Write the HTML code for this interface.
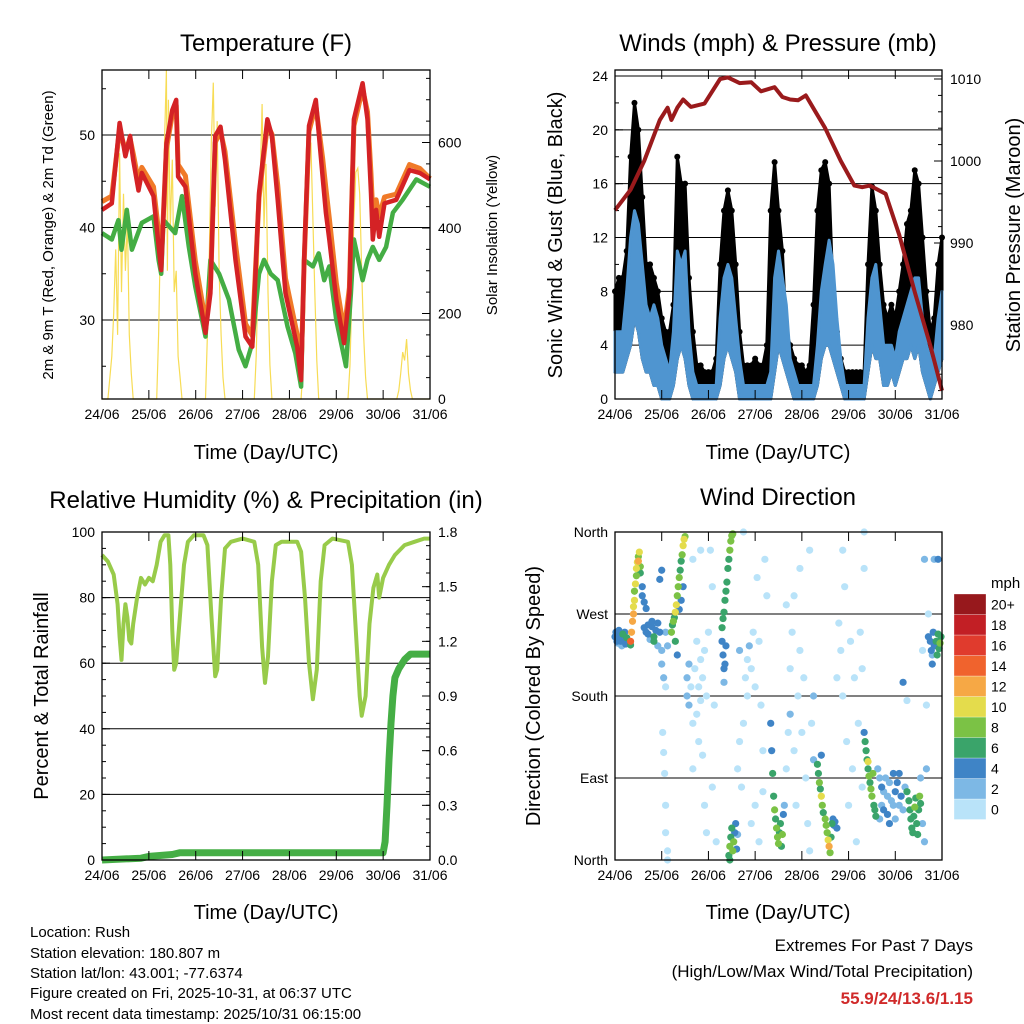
<!DOCTYPE html>
<html><head><meta charset="utf-8">
<style>
html,body{margin:0;padding:0;background:#fff;}
svg{display:block;font-family:"Liberation Sans",sans-serif;}
</style></head>
<body>
<svg id="chart" width="1024" height="1024" viewBox="0 0 1024 1024" xmlns="http://www.w3.org/2000/svg">
<rect width="1024" height="1024" fill="#fff"/>
<text x="266" y="51" font-size="24" text-anchor="middle">Temperature (F)</text>
<text x="778" y="51" font-size="24" text-anchor="middle">Winds (mph) &amp; Pressure (mb)</text>
<text x="266" y="508" font-size="24" text-anchor="middle">Relative Humidity (%) &amp; Precipitation (in)</text>
<text x="778" y="505" font-size="24" text-anchor="middle">Wind Direction</text>
<text x="266" y="459" font-size="20" text-anchor="middle">Time (Day/UTC)</text>
<text x="778" y="459" font-size="20" text-anchor="middle">Time (Day/UTC)</text>
<text x="266" y="919" font-size="20" text-anchor="middle">Time (Day/UTC)</text>
<text x="778" y="919" font-size="20" text-anchor="middle">Time (Day/UTC)</text>
<text transform="translate(53,235) rotate(-90)" font-size="15" text-anchor="middle">2m &amp; 9m T (Red, Orange) &amp; 2m Td (Green)</text>
<text transform="translate(497,235) rotate(-90)" font-size="15" text-anchor="middle">Solar Insolation (Yellow)</text>
<text transform="translate(562,235) rotate(-90)" font-size="20" text-anchor="middle">Sonic Wind &amp; Gust (Blue, Black)</text>
<text transform="translate(1020,235) rotate(-90)" font-size="20" text-anchor="middle">Station Pressure (Maroon)</text>
<text transform="translate(48,696) rotate(-90)" font-size="20" text-anchor="middle">Percent &amp; Total Rainfall</text>
<text transform="translate(540,696) rotate(-90)" font-size="20" text-anchor="middle">Direction (Colored By Speed)</text>
<g font-size="15">
<text x="30" y="937">Location: Rush</text>
<text x="30" y="958">Station elevation: 180.807 m</text>
<text x="30" y="978">Station lat/lon: 43.001; -77.6374</text>
<text x="30" y="998">Figure created on Fri, 2025-10-31, at 06:37 UTC</text>
<text x="30" y="1019">Most recent data timestamp: 2025/10/31 06:15:00</text>
</g>
<text x="973" y="951" font-size="17" text-anchor="end">Extremes For Past 7 Days</text>
<text x="973" y="977" font-size="17" text-anchor="end">(High/Low/Max Wind/Total Precipitation)</text>
<text x="973" y="1004" font-size="17" font-weight="bold" fill="#d02a2a" text-anchor="end">55.9/24/13.6/1.15</text>
<text x="991" y="588" font-size="15">mph</text>
</svg>
<script>
// ---------- data ----------
const dayLabels = ["24/06","25/06","26/06","27/06","28/06","29/06","30/06","31/06"];
const tempHours = [0,5,9,12,14.4,16,18.7,20.4,26.4,29,30.3,33,36,38,39,42.7,47.8,53,55.5,58,60.7,63,68.4,73.5,77,80.4,84.7,87,90,94,100,102,103.5,106,109.5,113,114.7,116.4,120,124,126.7,129,133.5,136,137.8,138.7,140.4,142,144.7,150.7,157.5,162.7,168];
const temp2m = [41.9,42.6,51.3,47.7,49.9,47.3,44,45.9,43.4,38,35.4,49.1,52.7,53.8,45.5,44.4,35,28.6,32.9,49.9,50.9,47.3,36.5,28.2,27.1,43.7,51.7,49.9,43,32.9,27.1,23.5,36.5,51,53.8,45.5,41.6,38.7,32.2,27.5,32.9,51.7,55.6,51.7,43.7,38.7,41.9,39,42.6,43,46.2,45.9,45.2];
const temp9m = [42.8,43.4,50.6,48.3,49.6,48.0,45.0,46.5,44.4,39.5,36.2,48.5,52.2,53.2,46.8,45.6,36.4,29.8,33.5,49.2,50.4,48.2,38.2,29.6,28.3,43.2,51.1,50.1,44.6,34.5,28.4,24.6,36.0,50.4,53.2,47.5,44.2,41.0,34.0,28.8,33.5,51.0,55.0,52.5,45.8,41.5,43.0,41.2,43.3,43.6,46.8,46.4,45.3];
const dewHours = [0,5,8.4,10,12.7,15.3,20.4,26.4,29,30.3,31.5,37.5,41,44.4,47.8,53,55.5,60,65,70,73.5,77,80.4,83,86.4,90,95,99,102,103.5,108,111,113.8,116.4,120,125,127.5,129,133.5,136,138.7,142,145.5,149,154,161,168];
const dewPoint = [39.4,38.7,40.8,37.6,41.9,37.6,40.5,41.2,36.5,35,40.8,39.4,43.4,38,33.6,28.2,36.5,35,32.2,26.8,25,27.5,35,36.5,35,34.3,29.3,26.4,22.8,36.5,35.8,37.2,34.3,35.8,30,25,32.9,38.7,34.3,36.5,37.9,36.5,37.9,41.6,43,45.2,44.4];
const solarHours = [0,3,5,6,7,8,9,10,11,12,13,14,15,16,28,29,30,31,32,33,33.5,34,35,36,37,38,39,40,41,53,54,55,56,57,58,59,60,61,62,63,78,79,80,81,82,83,84,85,86,87,102,103,104,105,106,107,108,109,110,111,126,127,128,129,130,131,132,133,134,135,136,151,152,153,154,155,156,157,158,159,168];
const solarValues = [0,0,100,200,350,150,575,250,480,300,420,150,60,0,0,150,400,300,600,770,300,700,400,560,250,300,100,50,0,0,150,350,600,740,450,650,300,150,50,0,0,100,300,500,690,400,550,250,80,0,0,80,250,450,580,600,420,250,90,0,0,80,250,420,530,540,480,300,150,50,0,0,20,60,110,90,140,60,20,0,0];
const pressHours = [0,8,15,23,27,29,32,35,39,46,54,58,64,70,75,82,86,90,94,98,103,108,116,123,127,131,139,146,154,162,168];
const pressValues = [994,996.5,1000,1005,1006.5,1005,1006.5,1007.5,1006.6,1007,1010,1010.2,1009.5,1009.6,1008.5,1009,1007.8,1007.5,1007.4,1008,1006,1004,1000,997,996.8,997,996,991,984,977.5,972];
const windLo = [2,2,2,3,4,6,5,3,2,2,1,1,0,0,0,1,3,4,3,1,0,0,0,0,0,0,0,1,3,4,3,2,0,0,0,0,0,0,0,0,0,2,4,3,2,1,0,0,0,0,0,0,1,3,4,4,3,2,1,0,0,0,0,0,0,2,4,3,3,1,1,2,1,2,3,3,4,3,4,2,1,0,1,2,3];
const windHi = [5,5,5,8,12,14,13,10,7,6,7,6,4,3,2,5,11,10,11,5,2,1,1,1,1,1,1,6,9,10,9,6,3,1,1,1,1,1,1,1,2,9,11,9,7,3,2,1,1,1,1,1,4,8,10,11.8,10,6,3,1,1,1,1,1,1,6,9,10,7,4,4,4,3,5,6,7,8,9,9,6,4,3,3,6,8];
const gustHi = [8,9,9,11,18,22,20,15,10,10,9,8,6,5,5,7,18,16,16,9,5,2.5,2.5,2,2,2,3,10,14,15.5,14,10,5,2.5,2.5,2.5,3,2.5,2.5,4,14,17.6,14,11,5,4,3,2.5,2.5,2,2.5,7,14,17,17.6,16,8,5,3,2,2,2,2,2,2,10,15.8,14,10,7,6,7,6,8,10,13,14,17,16,12,8,5,6,10,12];
const rhHours = [0,3,6,8,9,10,11,12,13,14,15,16,18,20,22,24,26,28,30,32,34,35,36,37,38,40,42,44,47,52,54,56,58,59,61,63,66,72,78,80,82,83.5,85,87,89,92,100,102,104,106,108,110,112,114,118,126,128,130,132,133,135,137,139,141,142,144,147,150,155,160,165,168];
const rhValues = [93,91,87,78,68,61,72,78,74,67,66,72,80,86,84,86,85,90,97,99,99,90,70,58,60,75,90,97,99,99,96,75,56,58,80,95,97,98,97,90,65,54,62,85,96,97,97,94,80,60,49,58,85,96,98,97,90,70,50,44,50,72,83,87,80,86,90,93,96,97,98,98];
const precipHours = [0,20,24,36,40,144,145,146,147,148,149,150,152,155,158,168];
const precipValues = [0,0.01,0.02,0.03,0.04,0.04,0.1,0.3,0.55,0.75,0.9,1.0,1.05,1.1,1.13,1.13];
const dirPoints = [
[0,245,4],[0.5,250,4],[1,240,4],[1.5,238,3],[2,252,4],[2.5,245,5],[3,240,4],[3.5,235,3],[4,248,6],[4.5,242,4],[5,250,5],[5.5,237,4],[6,244,6],[7,240,5],[8,236,7],
[8,240,14],[8.5,250,12],[9,262,12],[9.5,270,12],[9.5,278,10],[10,285,10],[10,295,9],[10.5,303,10],[11,312,8],[11,320,11],[11.5,327,10],[12,333,9],[12,328,12],[13,322,8],[13,315,6],[14,300,4],[14,290,5],[12.5,338,10],
[15,255,4],[16,250,5],[17,248,4],[17,258,5],[18,242,3],[19,256,4],[19,262,5],[20,245,6],[20,240,7],[21,252,4],[22,260,5],[22,235,3],[23,250,4],[24,230,3],[24,318,4],[23,308,4],[15,283,4],[16,276,4],
[24,215,2],[25,200,2],[26,190,1],[27,235,3],[26,250,3],[24.5,140,1],[25,118,1],[25.5,95,1],[26,30,1],[26,60,1],[27,10,1],[27,0,1],
[29,250,8],[29.5,258,7],[30,262,8],[30.5,266,6],[31,272,10],[31.5,280,10],[32,290,9],[32.5,300,8],[33,310,8],[33.5,318,7],[34,328,6],[34.5,335,9],[35,345,10],[35.5,352,10],[36,355,9],[33,275,4],[34,285,5],[35,300,4],[31,240,6],[32,225,4],
[37,200,3],[37,180,3],[38,170,3],[38,215,2],[39,190,1],[40,150,1],[40,100,1],[41,210,1],[42,160,1],[42,240,1],[43,190,1],[43,130,1],[44,220,1],[44,175,1],[45,200,1],[45,115,1],[46,60,1],[46,230,1],[47,180,1],[48,250,1],[49,340,1],[50,300,1],[51,170,1],[52,20,0],[40,330,1],[44,340,0],[47,30,1],[50,80,0],
[55,255,6],[55.5,265,7],[56,272,6],[56.5,285,7],[57,295,6],[57.5,305,7],[58,320,7],[58.5,330,6],[59,340,8],[59.5,350,8],[60,356,9],[60.5,358,8],[55,240,4],[55.5,225,5],[56,210,4],[56,195,3],[57,235,4],[56.5,215,4],
[58.5,5,7],[59,15,8],[59.5,25,7],[60,35,6],[60.5,10,8],[61,20,9],[61.5,30,5],[62,40,4],[62.5,12,4],[63,28,3],[59,0,7],
[63,100,1],[64,130,1],[65,80,0],[66,150,1],[67,200,1],[68,220,1],[68,180,1],[69,235,2],[70,210,1],[71,250,1],[72,190,1],[72,60,1],[73,310,1],[74,240,1],[74,20,1],[75,170,1],[76,120,1],[77,330,1],[78,290,1],[66,360,1],[64,230,3],[70,40,1],[76,75,1],
[80,150,4],[80.5,120,4],[81,95,6],[81.5,70,7],[82,55,8],[82.5,45,7],[83,35,8],[83.5,25,9],[84,18,8],[84.5,30,7],[85,40,6],[85.5,15,7],[86,28,8],[86.5,50,4],[87,60,3],
[88,100,1],[89,140,1],[90,160,2],[90,210,1],[91,250,1],[92,290,1],[92,120,1],[93,60,1],[94,180,1],[95,230,1],[96,140,1],[97,200,1],[98,90,1],[99,40,1],[100,10,1],[101,150,1],[102,180,2],[102,110,2],[95,320,1],[88,280,1],[100,340,0],
[104,105,6],[104.5,95,6],[105,85,8],[105.5,78,7],[106,70,10],[106.5,60,8],[107,52,7],[108,45,8],[108.5,38,9],[109,30,8],[109.5,22,10],[110,15,12],[110.5,8,8],[111,25,7],[111.5,40,6],[112,45,4],[112.5,38,4],[113,42,5],[114,35,4],[106,115,4],
[114,200,1],[115,260,1],[116,230,1],[117,180,1],[117,340,1],[118,300,1],[119,130,1],[120,60,0],[121,240,1],[122,100,1],[123,200,1],[124,20,1],[125,150,1],[126,250,1],[127,80,1],[128,360,1],[128,320,1],[127,210,1],
[128,140,5],[128.5,130,6],[129,120,6],[129.5,110,7],[130,100,6],[130.5,92,8],[131,85,7],[131.5,78,8],[132,70,9],[132.5,95,8],[133,60,6],[133.5,55,7],[134,48,6],[130,108,10],
[135,100,3],[136,90,3],[137,80,4],[137,60,3],[138,75,2],[139,90,3],[140,70,3],[140,50,4],[141,85,3],[142,65,2],[143,95,4],[143,60,3],[144,75,4],[145,85,4],[146,95,4],[147,70,4],[148,55,3],[149,80,3],[136,45,3],[138,55,4],[141,40,4],[144,45,3],[146,60,3],
[150,75,6],[151,65,6],[151.5,55,6],[152,45,6],[152.5,35,6],[153,30,7],[153.5,48,7],[154,58,8],[154.5,68,7],[155,40,6],[155.5,28,6],[156,55,7],[156.5,70,8],[157,62,7],
[157,90,2],[158,40,2],[159,20,2],[160,100,2],[160,170,1],[159,330,2],[161,270,1],[158,230,1],[150,175,1],[148,195,4],
[161,245,4],[162,240,4],[162.5,230,5],[163,225,3],[163.5,250,4],[164,235,5],[165,240,6],[165.5,225,7],[166,248,6],[166.5,232,7],[167,238,8],[167.5,245,6],[163,215,4],[164,330,3],[166,330,4]
];
const speedLabels = ["0","2","4","6","8","10","12","14","16","18","20+"];
const speedColors = ["#b9e3f9","#7db8e5","#3f84c6","#3aa46a","#7bc245","#e4dc4c","#f6a845","#f0632d","#e03b2d","#c21f25","#97181c"];
const tempTicks = [30,40,50];
const solarTicks = [0,200,400,600];
const windTicks = [0,4,8,12,16,20,24];
const pressTicks = [980,990,1000,1010];
const rhTicks = [0,20,40,60,80,100];
const precipTicks = ["0.0","0.3","0.6","0.9","1.2","1.5","1.8"];
const dirTicks = [0,90,180,270,360];
const dirLabels = ["North","East","South","West","North"];

// ---------- helpers ----------
const NS = "http://www.w3.org/2000/svg";
const svg = document.getElementById("chart");
function mk(tag, attrs, parent){
  const e = document.createElementNS(NS, tag);
  for (const k in attrs) e.setAttribute(k, attrs[k]);
  (parent || svg).appendChild(e);
  return e;
}
function lin(d0,d1,r0,r1){ return v => r0 + (v-d0)/(d1-d0)*(r1-r0); }
const P1 = {x0:102,x1:430,y0:70,y1:399};
const P2 = {x0:615,x1:942,y0:70,y1:399};
const P3 = {x0:102,x1:430,y0:532,y1:860};
const P4 = {x0:615,x1:942,y0:532,y1:860};
[P1,P2,P3,P4].forEach(p => { p.x = lin(0,168,p.x0,p.x1); });
P1.y = lin(30,50,320,135); P1.y2 = lin(0,600,399,142.5);
P2.y = lin(0,24,399,76); P2.y2 = lin(980,1010,325,79);
P3.y = lin(0,100,860,532); P3.y2 = lin(0,1.8,860,532);
P4.y = lin(0,360,860,532);

function pathOf(hs, vs, sx, sy){
  return hs.map((h,i)=>(i?"L":"M")+sx(h).toFixed(1)+","+sy(vs[i]).toFixed(1)).join("");
}
function bandOf(hs, hi, lo, sx, sy){
  let d = hs.map((h,i)=>(i?"L":"M")+sx(h).toFixed(1)+","+sy(hi[i]).toFixed(1)).join("");
  for (let i=hs.length-1;i>=0;i--) d += "L"+sx(hs[i]).toFixed(1)+","+sy(lo[i]).toFixed(1);
  return d+"Z";
}
function frame(p, name){
  const g = mk("g", {});
  
  
  dayLabels.forEach((lab,i)=>{
    const x = p.x(i*24);
    const t1 = mk("line",{x1:x,x2:x,y1:p.y1,y2:p.y1-9,stroke:"#000","stroke-width":1},g);
    
    
    const t2 = mk("line",{x1:x,x2:x,y1:p.y0,y2:p.y0+9,stroke:"#000","stroke-width":1},g);
    
    
    const tx = mk("text",{x:x,y:p.y1+20,"font-size":14,"text-anchor":"middle"},g);
    tx.textContent = lab;
    
    
  });
  return g;
}
function border(p, name){
  const r = mk("rect",{x:p.x0,y:p.y0,width:p.x1-p.x0,height:p.y1-p.y0,fill:"none",stroke:"#000","stroke-width":1.3});
  
  
}
function yTicks(p, ticks, labels, scale, side, name, grid, minorStep, minorRange){
  const g = mk("g",{});
  
  
  if (minorStep){
    for (let v=minorRange[0]; v<=minorRange[1]+1e-9; v+=minorStep){
      const y = scale(v);
      if (y < p.y0-0.5 || y > p.y1+0.5) continue;
      const x = side==="left" ? p.x0 : p.x1;
      const m = mk("line",{x1:x,x2:side==="left"?x+4:x-4,y1:y,y2:y,stroke:"#000","stroke-width":1},g);
      
      
    }
  }
  ticks.forEach((v,i)=>{
    const y = scale(v);
    if (grid){
      const gl = mk("line",{x1:p.x0,x2:p.x1,y1:y,y2:y,stroke:"#000","stroke-width":1},g);
      
      
    }
    const x = side==="left" ? p.x0 : p.x1;
    const tk = mk("line",{x1:x,x2:side==="left"?x+8:x-8,y1:y,y2:y,stroke:"#000","stroke-width":1},g);
    
    
    const t = mk("text",{x: side==="left"? p.x0-7 : p.x1+8, y:y+5, "font-size":14, "text-anchor": side==="left"?"end":"start"},g);
    t.textContent = labels[i];
    
    
  });
}

// ---------- Panel 1: temperature ----------
yTicks(P1, tempTicks, tempTicks, P1.y, "left", "temp-y-axis", true, 5, [25,55]);
yTicks(P1, solarTicks, solarTicks, P1.y2, "right", "solar-y-axis", false, 50, [0,750]);
const solar = mk("path",{d:pathOf(solarHours,solarValues,P1.x,P1.y2),fill:"none",stroke:"#f7dc55","stroke-width":1.2});


const dew = mk("path",{d:pathOf(dewHours,dewPoint,P1.x,P1.y),fill:"none",stroke:"#44ad44","stroke-width":4.5,"stroke-linejoin":"round"});


const t9 = mk("path",{d:pathOf(tempHours,temp9m,P1.x,P1.y),fill:"none",stroke:"#f07a28","stroke-width":5,"stroke-linejoin":"round"});


const t2 = mk("path",{d:pathOf(tempHours,temp2m,P1.x,P1.y),fill:"none",stroke:"#d42225","stroke-width":4.5,"stroke-linejoin":"round"});


frame(P1,"temp"); border(P1,"temp");

// ---------- Panel 2: winds ----------
yTicks(P2, windTicks, windTicks, P2.y, "left", "wind-y-axis", true, 2, [0,24]);
yTicks(P2, pressTicks, pressTicks, P2.y2, "right", "pressure-y-axis", false, 2, [972,1012]);
const windHours = gustHi.map((g,i)=>i*2);
const gustBand = mk("path",{d:bandOf(windHours,gustHi,windLo,P2.x,P2.y),fill:"#000",stroke:"#000","stroke-width":3,"stroke-linejoin":"round"});


gustHi.forEach((gv,i)=>{
  const c = mk("circle",{cx:P2.x(windHours[i]),cy:P2.y(gv),r:3,fill:"#000"});
  
  
});
const windBand = mk("path",{d:bandOf(windHours,windHi,windLo,P2.x,P2.y),fill:"#4f95d0",stroke:"#4f95d0","stroke-width":3,"stroke-linejoin":"round"});


const pr = mk("path",{d:pathOf(pressHours,pressValues,P2.x,P2.y2),fill:"none",stroke:"#9a1a1c","stroke-width":4,"stroke-linejoin":"round"});


frame(P2,"winds"); border(P2,"winds");

// ---------- Panel 3: humidity ----------
yTicks(P3, rhTicks, rhTicks, P3.y, "left", "rh-y-axis", true, 5, [0,100]);
yTicks(P3, precipTicks.map(Number), precipTicks, P3.y2, "right", "precip-y-axis", false, 0.075, [0,1.8]);
const rh = mk("path",{d:pathOf(rhHours,rhValues,P3.x,P3.y),fill:"none",stroke:"#98cb4a","stroke-width":4,"stroke-linejoin":"round"});


const pc = mk("path",{d:pathOf(precipHours,precipValues,P3.x,P3.y2),fill:"none",stroke:"#45ae45","stroke-width":7,"stroke-linejoin":"round"});


frame(P3,"humidity"); border(P3,"humidity");

// ---------- Panel 4: wind direction ----------
yTicks(P4, dirTicks, dirLabels, P4.y, "left", "direction-y-axis", true, 0, null);
const order = dirPoints.map((p,i)=>i).sort((a,b)=>dirPoints[a][2]-dirPoints[b][2]);
order.forEach(i=>{
  const p = dirPoints[i];
  const ci = Math.min(10, Math.floor(p[2]/2));
  const c = mk("circle",{cx:P4.x(p[0]),cy:P4.y(p[1]),r:3.6,fill:speedColors[ci]});
  
  
});
frame(P4,"direction"); border(P4,"direction");
const cbTop = 594, cbH = 20.5;
speedLabels.forEach((lab,i)=>{
  const k = speedLabels.length-1-i;
  const y = cbTop + k*cbH;
  const r = mk("rect",{x:954,y:y,width:32,height:cbH,fill:speedColors[i],stroke:"#fff","stroke-width":0.3});
  
  
  const t = mk("text",{x:991,y:y+cbH/2+5,"font-size":14});
  t.textContent = lab;
  
  
});
</script>
</body></html>
